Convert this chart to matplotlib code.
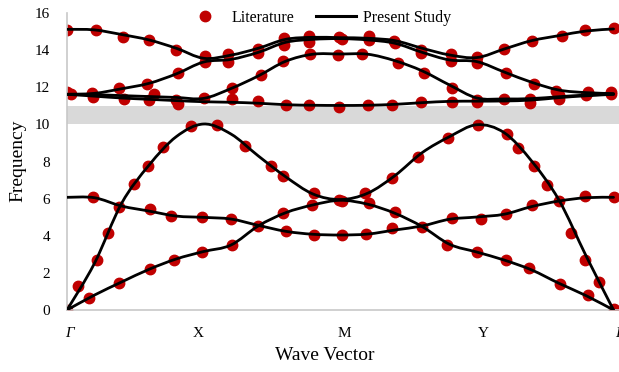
import numpy as np
import matplotlib
matplotlib.use("Agg")
import matplotlib.pyplot as plt
from matplotlib.path import Path
from matplotlib.patches import PathPatch
from matplotlib.lines import Line2D

plt.rcParams['font.family'] = ['Liberation Serif', 'DejaVu Serif']

# path coordinate: G=0, X=1, M=2, Y=3, G=4
sym_labels = ['Γ', 'X', 'M', 'Y', 'Γ']
sym_pos = [0.02, 0.96, 2.03, 3.05, 4.04]

# present study: bands sampled along the path
k_line = [0.0, 0.2, 0.4, 0.6, 0.8, 1.0, 1.2, 1.4, 1.6, 1.8, 2.0,
          2.2, 2.4, 2.6, 2.8, 3.0, 3.2, 3.4, 3.6, 3.8, 4.0]
band_a = [0, 0.8, 1.51, 2.19, 2.75, 3.15, 3.5, 4.53, 5.24, 5.66, 5.91,
          5.7, 5.21, 4.49, 3.54, 3.12, 2.69, 2.16, 1.44, 0.77, 0]
band_b = [0, 2.5, 5.75, 7.8, 9.34, 10.02, 9.48, 8.3, 7.18, 6.25, 5.95,
          6.29, 7.24, 8.48, 9.34, 9.98, 9.55, 8.03, 5.93, 2.9, 0]
band_c = [6.07, 6.05, 5.6, 5.33, 5.06, 4.99, 4.9, 4.56, 4.24, 4.08, 4.04,
          4.09, 4.31, 4.53, 4.89, 5.01, 5.16, 5.57, 5.87, 6.05, 6.07]
band_d = [15.12, 15.09, 14.84, 14.55, 14.1, 13.56, 13.73, 14.1, 14.58, 14.69, 14.67,
          14.64, 14.51, 14.1, 13.74, 13.6, 14.06, 14.51, 14.78, 15.03, 15.14]
band_e = [11.62, 11.67, 11.92, 12.21, 12.72, 13.36, 13.5, 13.88, 14.42, 14.58, 14.62,
          14.55, 14.37, 13.88, 13.47, 13.38, 12.82, 12.27, 11.85, 11.71, 11.66]
band_f = [11.62, 11.6, 11.55, 11.5, 11.45, 11.4, 11.93, 12.61, 13.4, 13.78, 13.79,
          13.78, 13.43, 12.88, 12.12, 11.42, 11.37, 11.39, 11.49, 11.58, 11.62]
band_g = [11.62, 11.52, 11.42, 11.35, 11.28, 11.22, 11.19, 11.14, 11.06, 11.03, 11.02,
          11.03, 11.08, 11.17, 11.24, 11.25, 11.26, 11.31, 11.44, 11.54, 11.62]
bands = [band_a, band_b, band_c, band_d, band_e, band_f, band_g]

# literature values, below the gap
lit_k_low = [0, 0.16, 0.38, 0.61, 0.78, 0.99, 1.21, 1.40, 1.58, 1.79, 1.99,
             2.21, 2.40, 2.60, 2.78, 3.0, 3.21, 3.38, 3.61, 3.81, 4.0,
             0.08, 0.22, 0.30, 0.49, 0.59, 0.70, 0.91, 1.10, 1.30, 1.49, 1.58, 1.81, 2.01,
             2.18, 2.38, 2.57, 2.79, 3.01, 3.22, 3.30, 3.42, 3.51, 3.69, 3.79, 3.89,
             0.19, 0.38, 0.61, 0.76, 0.99, 1.20, 1.60, 1.81, 2.01, 2.19, 2.38,
             2.82, 3.03, 3.21, 3.40, 3.60, 3.79, 4.0]
lit_f_low = [0, 0.66, 1.45, 2.2, 2.7, 3.15, 3.5, 4.5, 5.25, 5.65, 5.93,
             5.78, 5.3, 4.49, 3.5, 3.14, 2.69, 2.24, 1.4, 0.81, 0.05,
             1.29, 2.69, 4.13, 6.79, 7.76, 8.8, 9.93, 9.97, 8.84, 7.76, 7.22, 6.32, 5.85,
             6.28, 7.13, 8.26, 9.27, 9.97, 9.48, 8.71, 7.76, 6.73, 4.17, 2.69, 1.53,
             6.07, 5.57, 5.42, 5.06, 4.99, 4.92, 4.27, 4.04, 4.04, 4.1, 4.4,
             4.94, 4.89, 5.16, 5.66, 5.87, 6.14, 6.07]

# literature values, above the gap
lit_k_high = [0, 0.21, 0.41, 0.60, 0.80, 1.01, 1.18, 1.40, 1.59, 1.77, 1.99,
              2.21, 2.39, 2.59, 2.81, 3.0, 3.2, 3.40, 3.62, 3.79, 4.0,
              0.0, 0.18, 0.38, 0.585, 0.81, 1.01, 1.18, 1.40, 1.59, 1.77, 2.01,
              2.21, 2.40, 2.59, 2.81, 3.0, 3.21, 3.42, 3.58, 3.81, 3.98,
              0.03, 0.19, 0.415, 0.64, 0.80, 1.0, 1.21, 1.42, 1.58, 1.78, 1.98,
              2.16, 2.42, 2.61, 2.82, 3.0, 3.2, 3.39, 3.6, 3.80, 3.98,
              0.60, 0.81, 1.21, 1.40, 1.60, 1.77, 1.99, 2.20, 2.38, 2.59, 2.82, 3.0, 3.39, 3.6]
lit_f_high = [15.09, 15.09, 14.73, 14.55, 14.0, 13.67, 13.79, 14.04, 14.64, 14.76, 14.69,
              14.76, 14.51, 14.0, 13.79, 13.65, 14.04, 14.51, 14.76, 15.09, 15.18,
              11.76, 11.67, 11.94, 12.18, 12.75, 13.35, 13.38, 13.83, 14.28, 14.46, 14.58,
              14.55, 14.37, 13.83, 13.43, 13.33, 12.75, 12.18, 11.82, 11.72, 11.76,
              11.62, 11.49, 11.35, 11.64, 11.31, 11.4, 11.95, 12.66, 13.43, 13.79, 13.74,
              13.79, 13.29, 12.75, 11.95, 11.31, 11.35, 11.35, 11.58, 11.58, 11.62,
              11.31, 11.1, 11.37, 11.28, 11.05, 11.05, 10.96, 11.05, 11.05, 11.22, 11.19, 11.19, 11.14, 11.35]

gap = (10, 11)


def smooth_path(x, y):
    # cubic bezier through every sample, like a spreadsheet "smoothed line"
    pts = np.column_stack([x, y]).astype(float)
    n = len(pts)
    verts = [pts[0]]
    codes = [Path.MOVETO]
    for i in range(n - 1):
        p0 = pts[max(i - 1, 0)]
        p1 = pts[i]
        p2 = pts[i + 1]
        p3 = pts[min(i + 2, n - 1)]
        verts += [p1 + (p2 - p0) / 6, p2 - (p3 - p1) / 6, p2]
        codes += [Path.CURVE4] * 3
    return Path(verts, codes)


fig = plt.figure(figsize=(6.19, 3.72), dpi=100)
ax = fig.add_axes([67 / 619, 62 / 372, 552 / 619, 297 / 372])

ax.axhspan(gap[0], gap[1], color='#d9d9d9', lw=0, zorder=1)

red = '#c00000'
ax.plot(lit_k_low, lit_f_low, 'o', color=red, markersize=7.5, zorder=2)
ax.plot(lit_k_high, lit_f_high, 'o', color=red, markersize=7.5, zorder=2)

for b in bands:
    ax.add_patch(PathPatch(smooth_path(k_line, b), fill=False, ec='black',
                           lw=2.0, zorder=3, capstyle='round'))

ax.set_xlim(0, 4)
ax.set_ylim(0, 16)
ax.set_yticks(range(0, 17, 2))
ax.set_xticks(sym_pos)
ax.set_xticklabels(sym_labels)
for lbl, txt in zip(ax.get_xticklabels(), sym_labels):
    if txt == 'Γ':
        lbl.set_style('italic')
ax.tick_params(axis='both', length=0, labelsize=11)
ax.tick_params(axis='y', pad=12)
ax.tick_params(axis='x', pad=12)

for s in ['top', 'right']:
    ax.spines[s].set_visible(False)
for s in ['left', 'bottom']:
    ax.spines[s].set_color('#c8c8c8')
    ax.spines[s].set_linewidth(1.2)

fig.text(18 / 619, 1 - 161 / 372, 'Frequency', rotation=90, ha='center', va='center', fontsize=14)
fig.text(325 / 619, 1 - 355 / 372, 'Wave Vector', ha='center', va='center', fontsize=14)

handles = [Line2D([], [], marker='o', ls='none', color=red, markersize=7.5),
           Line2D([], [], color='black', lw=2.2)]
fig.legend(handles, ['Literature', 'Present Study'], loc='center', ncol=2,
           bbox_to_anchor=(318 / 619, 1 - 18 / 372), frameon=False, fontsize=11.5,
           handlelength=2.5, handletextpad=0.4, columnspacing=1.4, borderpad=0)

fig.savefig('out.png', dpi=100)
